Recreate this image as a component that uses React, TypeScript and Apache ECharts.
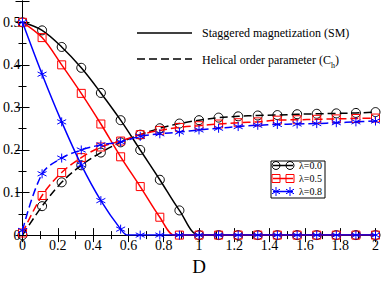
import React, { useEffect, useRef } from "react";
import * as echarts from "echarts";

const dValues = [0, 0.111, 0.222, 0.333, 0.444, 0.556, 0.667, 0.778, 0.889, 1.0, 1.111, 1.222, 1.333, 1.444, 1.556, 1.667, 1.778, 1.889, 2.0];

const smL0 = [0.5, 0.481, 0.442, 0.393, 0.334, 0.27, 0.2, 0.13, 0.058, 0, 0, 0, 0, 0, 0, 0, 0, 0, 0];
const smL5 = [0.5, 0.464, 0.4, 0.333, 0.261, 0.184, 0.114, 0.042, 0, 0, 0, 0, 0, 0, 0, 0, 0, 0, 0];
const smL8 = [0.5, 0.378, 0.266, 0.165, 0.081, 0.014, 0, 0, 0, 0, 0, 0, 0, 0, 0, 0, 0, 0, 0];

// where the SM curves reach zero
const smZeroL5 = 0.86;
const smZeroL8 = 0.596;

const chL0 = [0, 0.068, 0.124, 0.164, 0.194, 0.218, 0.236, 0.251, 0.262, 0.27, 0.276, 0.279, 0.281, 0.282, 0.284, 0.285, 0.286, 0.287, 0.289];
const chL5 = [0.005, 0.093, 0.147, 0.182, 0.207, 0.221, 0.236, 0.246, 0.253, 0.257, 0.261, 0.264, 0.266, 0.27, 0.271, 0.272, 0.273, 0.274, 0.275];
const chL8 = [0.011, 0.144, 0.181, 0.2, 0.212, 0.219, 0.232, 0.238, 0.242, 0.247, 0.251, 0.255, 0.258, 0.26, 0.261, 0.262, 0.264, 0.266, 0.268];

const lambdaLabels = ["λ=0.0", "λ=0.5", "λ=0.8"];
const colors = ["#000000", "#ff0000", "#0000ff"];
const legendSM = "Staggered magnetization (SM)";

const FONT = "Liberation Serif";
const STAR = "path://M0,-6L0,6M-5.2,-3L5.2,3M-5.2,3L5.2,-3";

function pts(vals: number[], zeroAt?: number) {
  const out: any[] = [];
  vals.forEach((v, i) => {
    if (zeroAt !== undefined && i > 0 && dValues[i - 1] < zeroAt && dValues[i] > zeroAt) {
      out.push({ value: [zeroAt, 0], symbol: "none" });
    }
    out.push([dValues[i], v]);
  });
  return out;
}

export default function App() {
  const ref = useRef<HTMLDivElement>(null);
  useEffect(() => {
    const chart = echarts.init(ref.current!, undefined, { renderer: "svg" });
    const symbols = ["circle", "rect", STAR];
    const sizes = [9, 8, 9];
    const mk = (name: string, data: any[], idx: number, dashed: boolean) => ({
      type: "line",
      name,
      data,
      smooth: 0.35,
      symbol: symbols[idx],
      symbolSize: sizes[idx],
      showAllSymbol: true,
      lineStyle: { color: colors[idx], width: 1.5, type: dashed ? [8, 4] : "solid" },
      itemStyle: { color: idx === 2 ? colors[idx] : "rgba(0,0,0,0)", borderColor: colors[idx], borderWidth: 1 },
      z: 2 + idx,
    });
    const axisCommon = {
      axisLine: { show: true, lineStyle: { color: "#000", width: 1 } },
      axisTick: { show: true, inside: true, length: 7, lineStyle: { color: "#000" } },
      minorTick: { show: true, splitNumber: 2, length: 4, lineStyle: { color: "#000" } },
      splitLine: { show: false },
    };
    const fmt = (v: number) => (v === 0 ? "0" : String(+v.toFixed(2)));
    const lx = 273, lw = 20;
    const rows = [165.5, 178.5, 191.5];
    const legendEls: any[] = [
      { type: "rect", shape: { x: 271, y: 161, width: 54, height: 37 }, style: { fill: "#fff", stroke: "#000", lineWidth: 1 }, z: 10 },
    ];
    const titles: any[] = [
      { text: legendSM, left: 202, top: 26, padding: 0, textStyle: { fontFamily: FONT, fontSize: 12, fontWeight: "normal", color: "#000", lineHeight: 14 } },
      {
        text: "{a|Helical order parameter (C}{s|h}{a|)}", left: 202, top: 52, padding: 0,
        textStyle: {
          fontFamily: FONT, fontSize: 12, fontWeight: "normal", color: "#000",
          rich: {
            a: { fontFamily: FONT, fontSize: 12, color: "#000", lineHeight: 14, verticalAlign: "bottom" },
            s: { fontFamily: FONT, fontSize: 8, color: "#000", lineHeight: 14, verticalAlign: "bottom", padding: [0, 0, -3, 0] },
          },
        },
      },
    ];
    rows.forEach((ry, i) => {
      legendEls.push({ type: "line", shape: { x1: lx, y1: ry, x2: lx + lw, y2: ry }, style: { stroke: colors[i], lineWidth: 1.5 }, z: 11 });
      [lx + 3, lx + lw - 3].forEach((cx) => {
        if (i === 0) legendEls.push({ type: "circle", shape: { cx, cy: ry, r: 4 }, style: { fill: "none", stroke: colors[i], lineWidth: 1 }, z: 12 });
        else if (i === 1) legendEls.push({ type: "rect", shape: { x: cx - 4, y: ry - 4, width: 8, height: 8 }, style: { fill: "none", stroke: colors[i], lineWidth: 1 }, z: 12 });
        else {
          legendEls.push({ type: "line", shape: { x1: cx, y1: ry - 4.5, x2: cx, y2: ry + 4.5 }, style: { stroke: colors[i], lineWidth: 1 }, z: 12 });
          legendEls.push({ type: "line", shape: { x1: cx - 4, y1: ry - 2.3, x2: cx + 4, y2: ry + 2.3 }, style: { stroke: colors[i], lineWidth: 1 }, z: 12 });
          legendEls.push({ type: "line", shape: { x1: cx - 4, y1: ry + 2.3, x2: cx + 4, y2: ry - 2.3 }, style: { stroke: colors[i], lineWidth: 1 }, z: 12 });
        }
      });
      titles.push({ text: lambdaLabels[i], left: 299, top: ry - 6, padding: 0, z: 20, textStyle: { fontFamily: FONT, fontSize: 10, fontWeight: "normal", color: "#000", lineHeight: 12 } });
    });
    chart.setOption({
      animation: false,
      textStyle: { fontFamily: FONT },
      title: titles,
      grid: { left: 22, right: 5, top: 1, bottom: 33 },
      xAxis: [
        {
          type: "value", min: 0, max: 2, interval: 0.2, position: "bottom",
          ...axisCommon,
          axisLabel: { formatter: fmt, fontFamily: FONT, fontSize: 14, color: "#000", margin: 3 },
          name: "D", nameLocation: "middle", nameGap: 11,
          nameTextStyle: { fontFamily: FONT, fontSize: 19, color: "#000", verticalAlign: "top" },
        },
        { type: "value", min: 0, max: 2, interval: 0.2, position: "top", ...axisCommon, axisLabel: { show: false } },
      ],
      yAxis: [
        {
          type: "value", min: 0, max: 0.55, interval: 0.1, position: "left",
          ...axisCommon,
          axisLabel: { formatter: fmt, fontFamily: FONT, fontSize: 14, color: "#000", margin: 2, showMaxLabel: false },
        },
        { type: "value", min: 0, max: 0.55, interval: 0.1, position: "right", ...axisCommon, axisLabel: { show: false } },
      ],
      series: [
        mk("SM λ=0.0", pts(smL0), 0, false),
        mk("SM λ=0.5", pts(smL5, smZeroL5), 1, false),
        mk("SM λ=0.8", pts(smL8, smZeroL8), 2, false),
        mk("Ch λ=0.0", pts(chL0), 0, true),
        mk("Ch λ=0.5", pts(chL5), 1, true),
        mk("Ch λ=0.8", pts(chL8), 2, true),
      ],
      graphic: [
        { type: "line", shape: { x1: 137, y1: 33, x2: 192, y2: 33 }, style: { stroke: "#000", lineWidth: 1.5 } },
        { type: "line", shape: { x1: 137, y1: 59, x2: 192, y2: 59 }, style: { stroke: "#000", lineWidth: 1.5, lineDash: [8, 4] } },
        ...legendEls,
      ],
    });
    return () => chart.dispose();
  }, []);
  return <div ref={ref} style={{ width: 382, height: 281, position: "absolute", left: 0, top: 0 }} />;
}
